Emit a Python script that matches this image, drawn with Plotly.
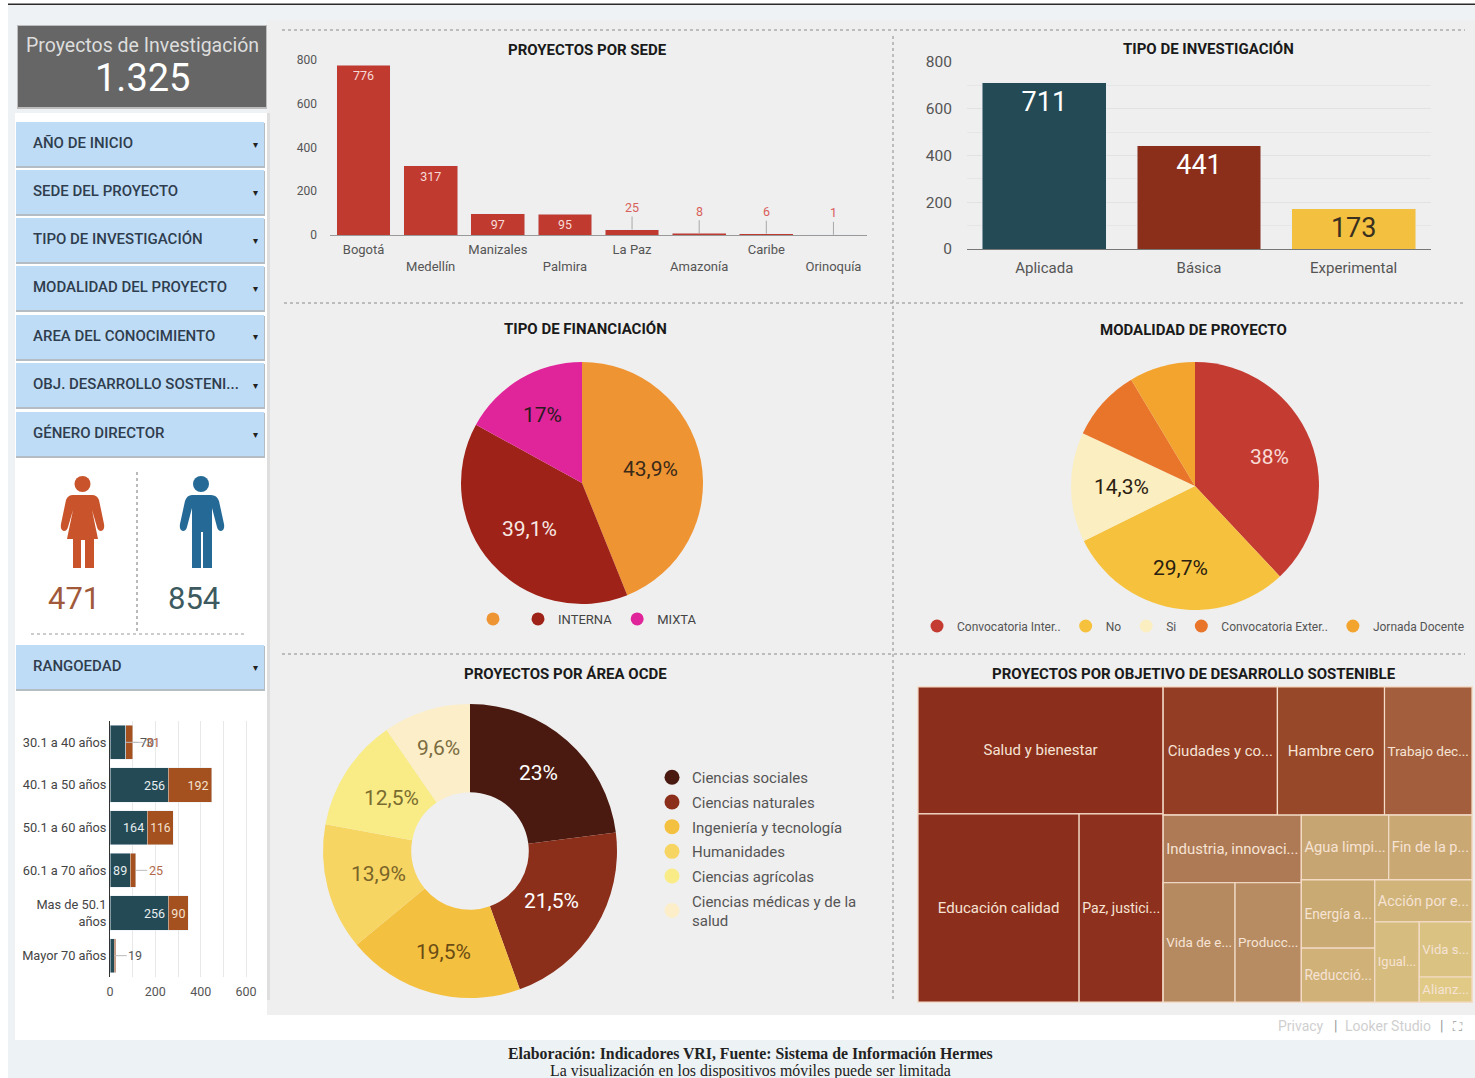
import plotly.graph_objects as go

W, H = 1475, 1078
FONT = "Roboto"

# ---------- data ----------
sede_names = ["Bogotá", "Medellín", "Manizales", "Palmira", "La Paz", "Amazonía", "Caribe", "Orinoquía"]
sede_ticks = ["Bogotá", "<br>Medellín", "Manizales", "<br>Palmira", "La Paz", "<br>Amazonía", "Caribe", "<br>Orinoquía"]
sede_values = [776, 317, 97, 95, 25, 8, 6, 1]

tipo_names = ["Aplicada", "Básica", "Experimental"]
tipo_values = [711, 441, 173]
tipo_colors = ["#234a55", "#8b2e1a", "#f4c03f"]
tipo_text_colors = ["#ffffff", "#ffffff", "#3a3020"]

fin_labels = ["", "INTERNA", "MIXTA"]
fin_values = [43.9, 39.1, 17.0]
fin_text = ["43,9%", "39,1%", "17%"]
fin_colors = ["#ef9433", "#9e2218", "#e0259a"]
fin_text_colors = ["#3a2a18", "#f8e8e4", "#2a1a22"]

mod_labels = ["Convocatoria Inter..", "No", "Si", "Convocatoria Exter..", "Jornada Docente"]
mod_values = [38.0, 29.7, 14.3, 9.4, 8.6]
mod_text = ["38%", "29,7%", "14,3%"]
mod_colors = ["#c43b32", "#f6c23e", "#fbeec0", "#e9752b", "#f3a42f"]
mod_text_colors = ["#f8dcd6", "#2a2010", "#2a2010"]

ocde_labels = ["Ciencias sociales", "Ciencias naturales", "Ingeniería y tecnología", "Humanidades",
               "Ciencias agrícolas", "Ciencias médicas y de la<br>salud"]
ocde_values = [23.0, 21.5, 19.5, 13.9, 12.5, 9.6]
ocde_text = ["23%", "21,5%", "19,5%", "13,9%", "12,5%", "9,6%"]
ocde_colors = ["#4a1a10", "#8b2e1a", "#f4c03f", "#f7d562", "#f9ec86", "#fbeec8"]
ocde_text_colors = ["#ffffff", "#ffffff", "#6a4c14", "#7a6428", "#7a6c30", "#7a6c40"]

edad_names = ["30.1 a 40 años", "40.1 a 50 años", "50.1 a 60 años", "60.1 a 70 años",
              "Mas de 50.1<br>años", "Mayor 70 años"]
edad_hombres = [70, 256, 164, 89, 256, 19]
edad_mujeres = [31, 192, 116, 25, 90, 7]
edad_hombres_text = ["", "256", "164", "89", "256", ""]
edad_mujeres_text = ["", "192", "116", "", "90", ""]

tree_ids = ["root", "izq", "Salud", "edu_paz", "Educ", "Paz", "der", "fila", "Ciud", "ham_tra", "Hambre", "Trabajo",
            "resto", "medio", "Indus", "vid_pro", "VidaE", "Prod", "chicos", "agu_fin", "Agua", "Fin", "abajo",
            "ene_red", "Energia", "Reduc", "acc_otros", "Accion", "igu_otros", "Igual", "vid_ali", "VidaS", "Alianz"]
tree_parents = ["", "root", "izq", "izq", "edu_paz", "edu_paz", "root", "der", "fila", "fila", "ham_tra", "ham_tra",
                "der", "resto", "medio", "medio", "vid_pro", "vid_pro", "resto", "chicos", "agu_fin", "agu_fin", "chicos",
                "abajo", "ene_red", "ene_red", "abajo", "acc_otros", "acc_otros", "igu_otros", "igu_otros", "vid_ali", "vid_ali"]
tree_labels = ["", "", "Salud y bienestar", "", "Educación calidad", "Paz, justici...", "", "", "Ciudades y co...", "",
               "Hambre cero", "Trabajo dec...", "", "", "Industria, innovaci...", "", "Vida de e...", "Producc...", "",
               "", "Agua limpi...", "Fin de la p...", "", "", "Energía a...", "Reducció...", "", "Acción por e...", "",
               "Igual...", "", "Vida s...", "Alianz..."]
tree_values = [0, 0, 236, 0, 230, 120, 0, 0, 111, 0, 104, 85, 0, 0, 71, 0, 65, 60, 0, 0, 43, 41, 0, 0, 38, 30, 0, 31, 0,
               27, 0, 22, 10]
tree_colors = ["#8b2e1c", "#8b2e1c", "#8b2e1c", "#8b2e1c", "#8b2e1c", "#8d301d", "#923d24", "#923d24", "#923d24",
               "#964829", "#964829", "#a35f3d", "#b58a60", "#b58a60", "#ae7a55", "#b58a60", "#b58a60", "#b78c62",
               "#c9aa72", "#c9aa72", "#c7a572", "#c9a874", "#c9aa72", "#c9aa72", "#c9aa72", "#d0b279", "#d0b47a",
               "#d0b47a", "#d6bc7e", "#d6bc7e", "#d9c282", "#d9c282", "#e0ca86"]

filtros = ["AÑO DE INICIO", "SEDE DEL PROYECTO", "TIPO DE INVESTIGACIÓN", "MODALIDAD DEL PROYECTO",
           "AREA DEL CONOCIMIENTO", "OBJ. DESARROLLO SOSTENI...", "GÉNERO DIRECTOR", "RANGOEDAD"]

titulos = ["PROYECTOS POR SEDE", "TIPO DE INVESTIGACIÓN", "TIPO DE FINANCIACIÓN", "MODALIDAD DE PROYECTO",
           "PROYECTOS POR ÁREA OCDE", "PROYECTOS POR OBJETIVO DE DESARROLLO SOSTENIBLE"]


# ---------- layout helpers ----------
filtro_tops = [122, 170, 218, 266, 315, 363, 412, 645]
titulo_pos = [(587, 50), (1208, 49), (585, 329), (1193, 330), (565, 674), (1194, 674)]
fin_label_pos = [(650, 469), (529, 529), (542, 415)]
mod_label_pos = [(1269, 457), (1180, 568), (1121, 487)]
ocde_label_pos = [(538, 773), (551, 901), (443, 952), (378, 874), (391, 798), (438, 748)]


def fx(x):
    return x / W


def fy(y):
    return 1 - y / H


def dom_x(a, b):
    return [a / W, b / W]


def dom_y(top, bottom):
    return [1 - bottom / H, 1 - top / H]


def rect(x0, y0, x1, y1, color):
    return dict(type="rect", xref="paper", yref="paper", x0=fx(x0), x1=fx(x1), y0=fy(y0), y1=fy(y1),
                fillcolor=color, line=dict(width=0), layer="below")


def rule(x0, y0, x1, y1, color="#8a8a8a", dash="dot"):
    return dict(type="line", xref="paper", yref="paper", x0=fx(x0), x1=fx(x1), y0=fy(y0), y1=fy(y1),
                line=dict(color=color, width=1, dash=dash), layer="below")


def note(x, y, text, size=14, color="#222", anchor="center", family=FONT, weight=None):
    font = dict(size=size, color=color, family=family)
    if weight:
        font["weight"] = weight
    return dict(xref="paper", yref="paper", x=fx(x), y=fy(y), text=text, showarrow=False,
                xanchor=anchor, yanchor="middle", font=font)


def icon(points, color):
    path = ""
    for cmd, coords in points:
        path += cmd + " ".join(
            f"{fx(coords[i]):.5f},{fy(coords[i + 1]):.5f}" for i in range(0, len(coords), 2)) + " "
    return dict(type="path", xref="paper", yref="paper", path=path + "Z", fillcolor=color,
                line=dict(width=0), layer="below")


def circle(cx, cy, r, color):
    return dict(type="circle", xref="paper", yref="paper", x0=fx(cx - r), x1=fx(cx + r),
                y0=fy(cy + r), y1=fy(cy - r), fillcolor=color, line=dict(width=0), layer="below")


shapes = [
    rect(8, 5, W, 1040, "#eef2f4"),
    rect(8, 3.5, W, 5, "#2a2a2a"),
    rect(15, 113, 267, 1040, "#ffffff"),
    rect(267, 20, W, 1015, "#efefef"),
    rect(267, 113, 270, 1000, "#dedede"),
    rect(15, 1015, W, 1040, "#ffffff"),
    rect(8, 1040, W, H, "#edf2f4"),
    rect(17, 25, 267, 109, "#bdbdbd"),
    rect(18, 26, 266, 107, "#666666"),
    rule(282, 30, 1465, 30),
    rule(284, 303, 1465, 303),
    rule(282, 654, 1465, 654),
    rule(893, 36, 893, 1002),
    rule(137, 472, 137, 634, "#777777"),
    rule(31, 634, 247, 634, "#999999"),
    circle(82.5, 484, 8, "#c9532b"),
    circle(201, 484, 8, "#256a96"),
    icon([("M", [73, 495]), ("L", [92, 495]), ("Q", [97, 495, 99, 500]), ("L", [104, 524]),
          ("Q", [105, 530, 101, 531]), ("Q", [98, 531, 97, 527]), ("L", [92, 510]), ("L", [98, 539]),
          ("L", [94, 539]), ("L", [94, 568]), ("L", [85, 568]), ("L", [85, 540]), ("L", [81, 540]),
          ("L", [81, 568]), ("L", [73, 568]), ("L", [73, 539]), ("L", [67, 539]), ("L", [73, 510]),
          ("L", [68, 527]), ("Q", [67, 531, 64, 531]), ("Q", [60, 530, 61, 524]), ("L", [66, 500]),
          ("Q", [68, 495, 73, 495])], "#c9532b"),
    icon([("M", [192, 495]), ("L", [211, 495]), ("Q", [217, 495, 219, 501]), ("L", [224, 524]),
          ("Q", [225, 530, 221, 531]), ("Q", [218, 531, 217, 527]), ("L", [212, 508]), ("L", [212, 568]),
          ("L", [203, 568]), ("L", [203, 532]), ("L", [201, 532]), ("L", [201, 568]), ("L", [192, 568]),
          ("L", [192, 508]), ("L", [187, 527]), ("Q", [186, 531, 183, 531]), ("Q", [179, 530, 180, 524]),
          ("L", [185, 501]), ("Q", [187, 495, 192, 495])], "#256a96"),
]

annotations = [
    note(142, 45, "Proyectos de Investigación", 19.5, "#dddddd"),
    note(142, 78, "1.325", 38, "#ffffff"),
    note(74, 598, "471", 31, "#a0593a"),
    note(194, 598, "854", 31, "#3d5a60"),
    note(1301, 1026, "Privacy", 14, "#cfcfcf"),
    note(1335, 1026, "|", 14, "#999999"),
    note(1388, 1026, "Looker Studio", 14, "#cfcfcf"),
    note(1441, 1026, "|", 14, "#999999"),
    note(1457, 1026, "⛶", 13, "#999999", family="DejaVu Sans"),
    note(750, 1053, "<b>Elaboración: Indicadores VRI, Fuente: Sistema de Información Hermes</b>", 15.8,
         "#222222", family="Liberation Serif"),
    note(750, 1071, "La visualización en los dispositivos móviles puede ser limitada", 15.9,
         "#222222", family="Liberation Serif"),
]

for name, top in zip(filtros, filtro_tops):
    shapes.append(rect(16, top + 1, 265, top + 46, "#b4bcc4"))
    shapes.append(rect(16, top, 264, top + 44, "#bfdcf7"))
    annotations.append(note(30.5, top + 21, name, 15, "#2f3e4e", anchor="left", weight=500))
    annotations.append(note(255, top + 22, "▾", 10, "#222222", family="DejaVu Sans"))

for t, (x, y) in zip(titulos, titulo_pos):
    annotations.append(note(x, y, f"<b>{t}</b>", 15, "#1a1a1a"))

for texts, colors, positions in ((fin_text, fin_text_colors, fin_label_pos),
                                 (mod_text, mod_text_colors, mod_label_pos),
                                 (ocde_text, ocde_text_colors, ocde_label_pos)):
    for t, c, (x, y) in zip(texts, colors, positions):
        annotations.append(note(x, y, t, 21, c))

fig = go.Figure()

# ---------- proyectos por sede ----------
fig.add_trace(go.Bar(x=sede_names, y=sede_values, xaxis="x", yaxis="y", marker_color="#c13a30",
                     width=0.8, showlegend=False,
                     text=[str(v) if v > 50 else "" for v in sede_values], textposition="inside",
                     insidetextanchor="end", textangle=0, textfont=dict(size=12.5, color="#f6dcd8", family=FONT)))
for name, v in zip(sede_names, sede_values):
    if v <= 50:
        annotations.append(dict(xref="x", yref="y", x=name, y=v, text=str(v), showarrow=True, arrowhead=0,
                                arrowwidth=1, arrowcolor="#a8a8a8", ax=0, ay=-22,
                                font=dict(size=12.5, color="#d9605a", family=FONT)))

# ---------- tipo de investigacion ----------
fig.add_trace(go.Bar(x=tipo_names, y=tipo_values, xaxis="x2", yaxis="y2", width=0.8, showlegend=False,
                     marker_color=tipo_colors, text=[str(v) for v in tipo_values], textposition="inside",
                     insidetextanchor="end", textangle=0,
                     textfont=dict(size=27, color=tipo_text_colors, family=FONT)))

# ---------- rango de edad ----------
fig.add_trace(go.Bar(y=edad_names, x=edad_hombres, orientation="h", xaxis="x3", yaxis="y3", width=0.8,
                     showlegend=False, marker_color="#234a55", text=edad_hombres_text, textposition="inside",
                     insidetextanchor="end", textangle=0, textfont=dict(size=12.5, color="#e8eef0", family=FONT)))
fig.add_trace(go.Bar(y=edad_names, x=edad_mujeres, orientation="h", xaxis="x3", yaxis="y3", width=0.8,
                     showlegend=False, marker_color="#a5501f", text=edad_mujeres_text, textposition="inside",
                     insidetextanchor="end", textangle=0, textfont=dict(size=12.5, color="#f3e2d0", family=FONT)))
for name, h, m, htxt, mtxt in zip(edad_names, edad_hombres, edad_mujeres, edad_hombres_text, edad_mujeres_text):
    if not htxt:
        annotations.append(dict(xref="x3", yref="y3", x=h, y=name, text=str(h), showarrow=True, arrowhead=0,
                                arrowwidth=1, arrowcolor="#bbbbbb", ax=21, ay=0,
                                font=dict(size=12.5, color="#555555", family=FONT)))
    if not mtxt and m >= 20:
        annotations.append(dict(xref="x3", yref="y3", x=h + m, y=name, text=str(m), showarrow=True, arrowhead=0,
                                arrowwidth=1, arrowcolor="#bbbbbb", ax=20, ay=0,
                                font=dict(size=12.5, color="#b0694a", family=FONT)))

# ---------- tartas ----------
fig.add_trace(go.Pie(labels=fin_labels, values=fin_values, textinfo="none", sort=False,
                     direction="clockwise", rotation=0, showlegend=False,
                     marker=dict(colors=fin_colors, line=dict(width=0)),
                     domain=dict(x=dom_x(461, 703), y=dom_y(362, 604))))
fig.add_trace(go.Pie(labels=mod_labels, values=mod_values, textinfo="none", sort=False,
                     direction="clockwise", rotation=0, showlegend=False,
                     marker=dict(colors=mod_colors, line=dict(width=0)),
                     domain=dict(x=dom_x(1071, 1319), y=dom_y(362, 610))))
fig.add_trace(go.Pie(labels=ocde_labels, values=ocde_values, textinfo="none", sort=False,
                     direction="clockwise", rotation=0, hole=0.4, showlegend=False,
                     marker=dict(colors=ocde_colors, line=dict(width=0)),
                     domain=dict(x=dom_x(323, 617), y=dom_y(704, 998))))


# ---------- leyendas con marcador circular ----------
def legend_items(labels, colors, legend_id, size, grouped=False):
    for i, (lab, col) in enumerate(zip(labels, colors)):
        fig.add_trace(go.Scatter(x=[None], y=[None], xaxis="x", yaxis="y", mode="markers", name=lab,
                                 legend=legend_id, legendgroup=f"{legend_id}{i}" if grouped else None,
                                 marker=dict(symbol="circle", size=size, color=col)))


legend_items(fin_labels, fin_colors, "legend", 13)
legend_items(mod_labels, mod_colors, "legend2", 13)
legend_items(ocde_labels, ocde_colors, "legend3", 15, grouped=True)

# ---------- treemap ----------
fig.add_trace(go.Treemap(ids=tree_ids, parents=tree_parents, labels=tree_labels, values=tree_values,
                         branchvalues="remainder", sort=False, textinfo="label", maxdepth=-1,
                         tiling=dict(packing="binary", pad=0),
                         pathbar=dict(visible=False),
                         marker=dict(colors=tree_colors, pad=dict(t=0, l=0, r=0, b=0),
                                     line=dict(color="#f3dcc8", width=1.2)),
                         textposition="middle center",
                         textfont=dict(size=15, color="#f6e3d4", family=FONT),
                         domain=dict(x=dom_x(918, 1472), y=dom_y(687, 1002))))

tick = dict(size=12, color="#555555", family=FONT)
legend_base = dict(bgcolor="rgba(0,0,0,0)", borderwidth=0, itemsizing="trace",
                   itemclick=False, itemdoubleclick=False)

fig.update_layout(
    width=W, height=H, margin=dict(l=0, r=0, t=0, b=0, autoexpand=False), autosize=False,
    paper_bgcolor="#ffffff", plot_bgcolor="rgba(0,0,0,0)",
    font=dict(family=FONT, color="#444444"), barmode="stack", bargap=0.2,
    shapes=shapes, annotations=annotations,
    xaxis=dict(domain=dom_x(330, 867), type="category", categoryorder="array", categoryarray=sede_names,
               tickvals=sede_names, ticktext=sede_ticks, tickfont=dict(size=13, color="#555555", family=FONT),
               showgrid=False, showline=True,
               linecolor="#999999", ticks="", anchor="y", fixedrange=True, ticklabelstandoff=2, automargin=False),
    yaxis=dict(domain=dom_y(60, 235), range=[0, 800], tickvals=[0, 200, 400, 600, 800], tickfont=tick,
               showgrid=False, zeroline=False, anchor="x", ticks="", ticklabelstandoff=12, fixedrange=True,
               automargin=False),
    xaxis2=dict(domain=dom_x(967, 1431), type="category", tickfont=dict(size=15, color="#555555", family=FONT),
                showgrid=False, showline=True, linecolor="#777777", ticks="", anchor="y2", ticklabelstandoff=5,
                automargin=False),
    yaxis2=dict(domain=dom_y(62, 249), range=[0, 800], tickvals=[0, 200, 400, 600, 800],
                tickfont=dict(size=15.5, color="#555555", family=FONT), showgrid=True, gridcolor="#e2e2e2",
                minor=dict(dtick=100, showgrid=True, gridcolor="#e6e6e6"), zeroline=False,
                anchor="x2", ticks="", ticklabelstandoff=14, automargin=False),
    xaxis3=dict(domain=dom_x(110, 263), range=[0, 675], tickvals=[0, 200, 400, 600],
                tickfont=dict(size=12.5, color="#555555", family=FONT),
                showgrid=True, gridcolor="#e8e8e8", minor=dict(dtick=100, showgrid=True, gridcolor="#e8e8e8"),
                zeroline=False, anchor="y3", ticks="", ticklabelstandoff=5, automargin=False),
    yaxis3=dict(domain=dom_y(721, 977), type="category", autorange="reversed", tickfont=dict(size=12.8, color="#444444", family=FONT),
                showgrid=False, showline=True, linecolor="#333333", anchor="x3", ticks="", ticklabelstandoff=0,
                automargin=False),
    legend=dict(orientation="h", traceorder="normal", x=fx(473), y=fy(619), xanchor="left", yanchor="middle",
                font=dict(size=13, color="#444444", family=FONT), **legend_base),
    legend2=dict(orientation="h", traceorder="normal", x=fx(917), y=fy(626), xanchor="left", yanchor="middle",
                 font=dict(size=12, color="#555555", family=FONT), **legend_base),
    legend3=dict(orientation="v", traceorder="grouped", x=fx(652), y=fy(849), xanchor="left", yanchor="middle",
                 tracegroupgap=2.2, font=dict(size=15, color="#555555", family=FONT), **legend_base),
)

fig.write_html("out.html", config=dict(displayModeBar=False),
               post_script=("var g=document.getElementById('{plot_id}');"
                            "document.documentElement.style.margin='0';"
                            "document.body.style.margin='0';"
                            "document.body.style.overflow='hidden';"
                            "g.style.position='fixed';g.style.left='0';g.style.top='0';"))
